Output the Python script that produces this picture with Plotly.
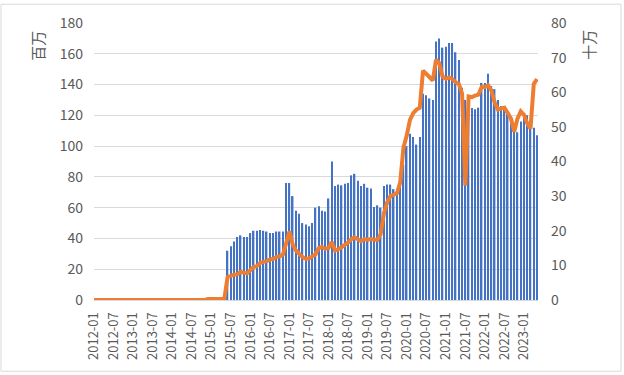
import plotly.graph_objects as go

# ---- data ----
months = [f"{y}-{m:02d}" for y in range(2012, 2024) for m in range(1, 13)][:137]

bar_values = [0] * 41 + [
    32, 35, 38, 41, 42, 41, 41, 43.5, 45, 45,
    45.5, 45, 44.5, 43.5, 43.5, 44.5, 44.5, 44.5, 76, 76,
    67.5, 58, 56, 50, 49, 48, 50, 60, 61, 58,
    57.5, 66, 90, 74, 75, 74.5, 75.5, 76, 81, 82,
    77.5, 74, 75.5, 73, 72.5, 60.5, 61.5, 60, 74, 75,
    75, 72, 70.5, 78, 88, 100, 108, 106, 101, 106,
    134, 133, 131, 130, 168, 170, 164, 164.5, 167, 167,
    161, 156, 138, 130, 126, 124.7, 124, 125, 141, 141,
    147, 139, 137, 130, 126, 125, 122, 118, 112, 109,
    116, 119, 120, 116, 112, 107,
]

line_values = [0] * 35 + [0.3] * 6 + [
    6.6, 7.1, 7.3, 7.4, 8.1, 7.9, 7.7, 8.6, 9.5, 9.8,
    10.7, 11.0, 11.2, 11.7, 11.9, 12.4, 12.6, 13.1, 16.0, 19.8,
    16.0, 14.3, 13.3, 12.4, 11.9, 12.0, 12.6, 13.2, 15.0, 15.3,
    14.8, 15.0, 16.8, 14.3, 14.6, 15.4, 15.9, 16.6, 17.6, 18.1,
    17.6, 17.0, 17.6, 17.4, 17.6, 17.4, 17.3, 19.0, 25.0, 28.2,
    30.0, 30.4, 30.8, 34.0, 44.0, 47.5, 52.0, 54.0, 55.0, 55.5,
    66.2, 65.3, 64.5, 63.4, 69.4, 68.4, 64.5, 63.9, 64.3, 63.8,
    62.9, 62.4, 59.6, 33.0, 58.8, 58.6, 59.0, 59.3, 61.5, 61.5,
    62.0, 60.5, 57.0, 55.0, 55.3, 55.5, 54.0, 52.4, 48.6, 52.4,
    54.5, 53.5, 51.0, 49.5, 62.4, 63.8,
]

tick_labels = months[::6]
left_title = "百万"
right_title = "十万"

# ---- layout constants ----
W, H = 624, 375
ML, MR, MT, MB = 94, 86, 20, 75
PW, PH = W - ML - MR, H - MT - MB

def px_x(x):
    return (x - ML) / PW

def px_y(y):
    return (H - MB - y) / PH

font_family = "Noto Sans CJK JP, Noto Sans, sans-serif"
gray = "#595959"

fig = go.Figure()
fig.add_trace(go.Bar(x=months, y=bar_values, marker_color="#4472C4",
                     marker_line_width=0, yaxis="y", name="bars"))
fig.add_trace(go.Scatter(x=months, y=line_values, mode="lines",
                         line=dict(color="#ED7D31", width=4),
                         yaxis="y2", name="line"))

fig.update_layout(
    width=W, height=H,
    margin=dict(l=ML, r=MR, t=MT, b=MB),
    paper_bgcolor="white", plot_bgcolor="white",
    showlegend=False,
    bargap=0.55,
    font=dict(family=font_family, color=gray, size=14),
    xaxis=dict(type="category", range=[0, 136.3],
               tickmode="array", tickvals=tick_labels, ticktext=tick_labels,
               tickangle=-90, tickfont=dict(size=13, color=gray),
               showline=True, linecolor="#D9D9D9", linewidth=1,
               showgrid=False, ticks="", ticklabelstandoff=6),
    yaxis=dict(range=[0, 180], dtick=20, gridcolor="#D9D9D9", gridwidth=1,
               zeroline=False, showline=False, ticks="",
               tickfont=dict(size=14, color=gray), ticklabelstandoff=10),
    yaxis2=dict(range=[0, 80], dtick=10, overlaying="y", side="right",
                showgrid=False, zeroline=False, showline=False, ticks="",
                tickfont=dict(size=14, color=gray), ticklabelstandoff=12),
    annotations=[
        dict(text=left_title, xref="paper", yref="paper", x=px_x(38), y=px_y(43),
             showarrow=False, textangle=-90, font=dict(size=15, color=gray),
             xanchor="center", yanchor="middle"),
        dict(text=right_title, xref="paper", yref="paper", x=px_x(589), y=px_y(42),
             showarrow=False, textangle=-90, font=dict(size=15, color=gray),
             xanchor="center", yanchor="middle"),
    ],
    shapes=[
        dict(type="rect", xref="paper", yref="paper",
             x0=px_x(1), x1=px_x(621), y0=px_y(372), y1=px_y(1),
             line=dict(color="#D9D9D9", width=1), fillcolor="rgba(0,0,0,0)",
             layer="below"),
    ],
)

fig.write_html("out.html",
               config={"displayModeBar": False},
               post_script="document.body.style.margin='0';document.body.style.overflow='hidden';")
